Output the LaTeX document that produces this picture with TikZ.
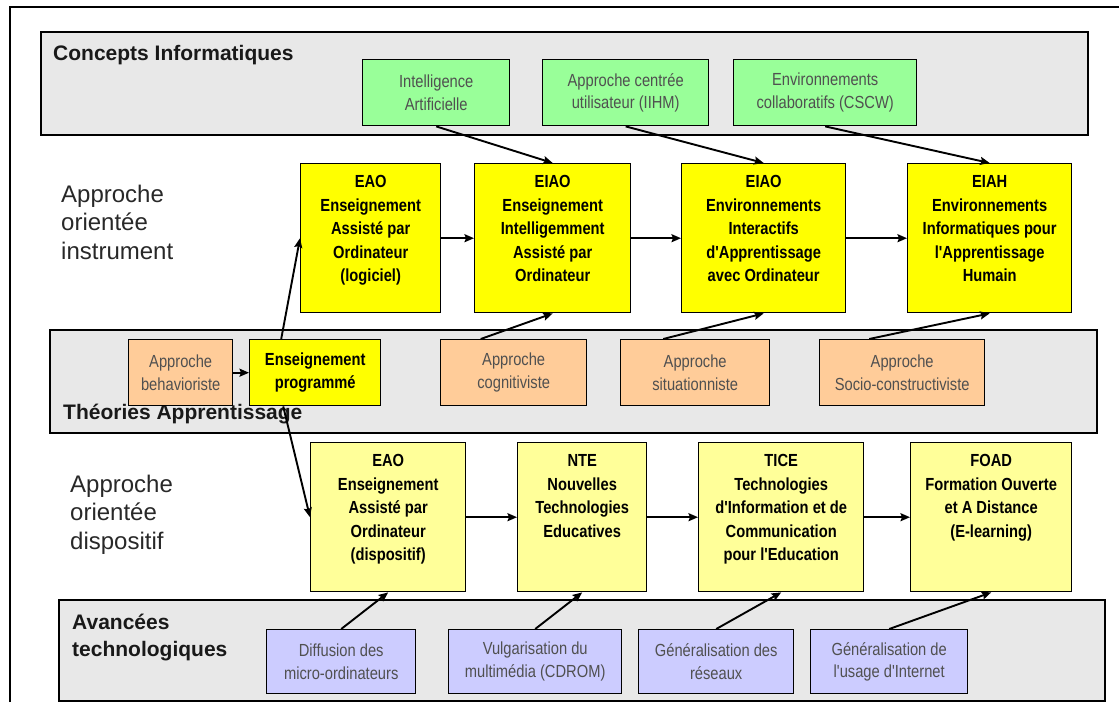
\documentclass[tikz,border=0pt]{standalone}
\usepackage{fontspec}
\setmainfont{Liberation Sans}
\newfontfamily\narrowfont[FakeStretch=0.84]{Liberation Sans}
\usetikzlibrary{arrows.meta, shapes}
\usetikzlibrary{positioning}
\definecolor{bandgray}{RGB}{232,232,232}
\definecolor{boxyellow}{RGB}{255,255,0}
\definecolor{paleyellow}{RGB}{255,255,153}
\definecolor{boxgreen}{RGB}{153,255,153}
\definecolor{boxorange}{RGB}{255,204,153}
\definecolor{boxblue}{RGB}{204,204,255}
\definecolor{softtext}{RGB}{80,80,80}
\definecolor{labeltext}{RGB}{40,40,40}

\begin{document}
\begin{tikzpicture}[
		x=1pt, y=-1pt,
		band/.style={draw=black, fill=bandgray, line width=1.5pt},
		box/.style={draw=black, line width=1.4pt, anchor=north west, inner sep=0pt, align=center,
			text=softtext, font=\narrowfont\fontsize{17.5}{22.5}\selectfont},
		concept/.style={box, fill=boxgreen, minimum height=66pt},
		theory/.style={box, fill=boxorange, minimum height=66pt},
		progbox/.style={box, fill=boxyellow, minimum height=66pt, text=black,
			font=\narrowfont\bfseries\fontsize{17.5}{22.5}\selectfont},
		techno/.style={box, fill=boxblue, minimum height=64pt},
		instr/.style={box, fill=boxyellow, minimum height=149pt},
		disp/.style={box, fill=paleyellow, minimum height=149pt},
		boxtext/.style={align=center, inner sep=0pt, font=\narrowfont\bfseries\fontsize{17.5}{23.5}\selectfont},
		title/.style={anchor=base west, inner sep=0pt, align=left, text=black!90,
			font=\bfseries\fontsize{21}{27}\selectfont},
		side/.style={anchor=base west, inner sep=0pt, align=left, text=labeltext,
			font=\fontsize{24}{28.5}\selectfont},
		link/.style={line width=1.9pt, ->, >={Stealth[length=9.5pt, width=8pt, inset=1.5pt]}},
		]

	\useasboundingbox (0,0) rectangle (1119,702);
	\draw[line width=2pt] (10,702) -- (10,7) -- (1119,7);

	\draw[band] (41,32) rectangle (1088,135);
	\draw[band] (50,330) rectangle (1097,433);
	\draw[band] (59,600) rectangle (1105,701);

	\node[title] (concepts) at (53,60) {Concepts Informatiques};
	\node[title] (theories) at (63,419) {Théories Apprentissage};
	\node[title] (avancees) at (72,656) {Avancées\\technologiques};
	\node[side] (instrument) at (61,259) {Approche\\orientée\\instrument};
	\node[side] (dispositif) at (70,549) {Approche\\orientée\\dispositif};

	\node[concept, minimum width=147pt] (ia) at (362,59) {Intelligence\\Artificielle};
	\node[concept, minimum width=166pt] (ihm) at (542,59) {Approche centrée\\utilisateur (IIHM)};
	\node[concept, minimum width=183pt] (cscw) at (733,59) {Environnements\\collaboratifs (CSCW)};

	\node[instr, minimum width=140pt] (eao) at (300,163) {};
	\node[boxtext, below=12.5pt of eao.north] (eaotext) {EAO\\Enseignement\\Assisté par\\Ordinateur\\(logiciel)};
	\node[instr, minimum width=156pt] (eiao) at (474,163) {};
	\node[boxtext, below=12.5pt of eiao.north] (eiaotext) {EIAO\\Enseignement\\Intelligemment\\Assisté par\\Ordinateur};
	\node[instr, minimum width=164pt] (eiaoenv) at (681,163) {};
	\node[boxtext, below=12.5pt of eiaoenv.north] (eiaoenvtext) {EIAO\\Environnements\\Interactifs\\d'Apprentissage\\avec Ordinateur};
	\node[instr, minimum width=164pt] (eiah) at (907,163) {};
	\node[boxtext, below=12.5pt of eiah.north] (eiahtext) {EIAH\\Environnements\\Informatiques pour\\l'Apprentissage\\Humain};

	\node[theory, minimum width=104pt] (behav) at (128,339) {Approche\\behavioriste};
	\node[progbox, minimum width=131pt] (prog) at (249,339) {Enseignement\\programmé};
	\node[theory, minimum width=146pt] (cogn) at (440,339) {Approche\\cognitiviste};
	\node[theory, minimum width=149pt] (situ) at (620,339) {Approche\\situationniste};
	\node[theory, minimum width=165pt] (socio) at (819,339) {Approche\\Socio-constructiviste};

	\node[disp, minimum width=155pt] (eaodisp) at (310,442) {};
	\node[boxtext, below=12.5pt of eaodisp.north] (eaodisptext) {EAO\\Enseignement\\Assisté par\\Ordinateur\\(dispositif)};
	\node[disp, minimum width=129pt] (nte) at (517,442) {};
	\node[boxtext, below=12.5pt of nte.north] (ntetext) {NTE\\Nouvelles\\Technologies\\Educatives};
	\node[disp, minimum width=165pt] (tice) at (698,442) {};
	\node[boxtext, below=12.5pt of tice.north] (ticetext) {TICE\\Technologies\\d'Information et de\\Communication\\pour l'Education};
	\node[disp, minimum width=161pt] (foad) at (910,442) {};
	\node[boxtext, below=12.5pt of foad.north] (foadtext) {FOAD\\Formation Ouverte\\et A Distance\\(E-learning)};

	\node[techno, minimum width=149pt] (diffusion) at (266,629) {Diffusion des\\micro-ordinateurs};
	\node[techno, minimum width=173pt] (multimedia) at (448,629) {Vulgarisation du\\multimédia (CDROM)};
	\node[techno, minimum width=155pt] (reseaux) at (638,629) {Généralisation des\\réseaux};
	\node[techno, minimum width=157pt] (internet) at (810,629) {Généralisation de\\l'usage d'Internet};

	\draw[link] (ia.south) -- (eiao.north);
	\draw[link] (ihm.south) -- (eiaoenv.north);
	\draw[link] (cscw.south) -- (eiah.north);
	\draw[link] (eao) -- (eiao);
	\draw[link] (eiao) -- (eiaoenv);
	\draw[link] (eiaoenv) -- (eiah);
	\draw[link] (behav) -- (prog);
	\draw[link] ([xshift=-34pt]prog.north) -- (eao.west);
	\draw[link] ([xshift=-32pt]prog.south) -- (eaodisp.west);
	\draw[link] ([xshift=-33pt]cogn.north) -- (eiao.south);
	\draw[link] ([xshift=-32pt]situ.north) -- (eiaoenv.south);
	\draw[link] ([xshift=-33pt]socio.north) -- (eiah.south);
	\draw[link] (eaodisp) -- (nte);
	\draw[link] (nte) -- (tice);
	\draw[link] (tice) -- (foad);
	\draw[link] (diffusion.north) -- (eaodisp.south);
	\draw[link] (multimedia.north) -- (nte.south);
	\draw[link] (reseaux.north) -- (tice.south);
	\draw[link] (internet.north) -- (foad.south);
\end{tikzpicture}
\end{document}
